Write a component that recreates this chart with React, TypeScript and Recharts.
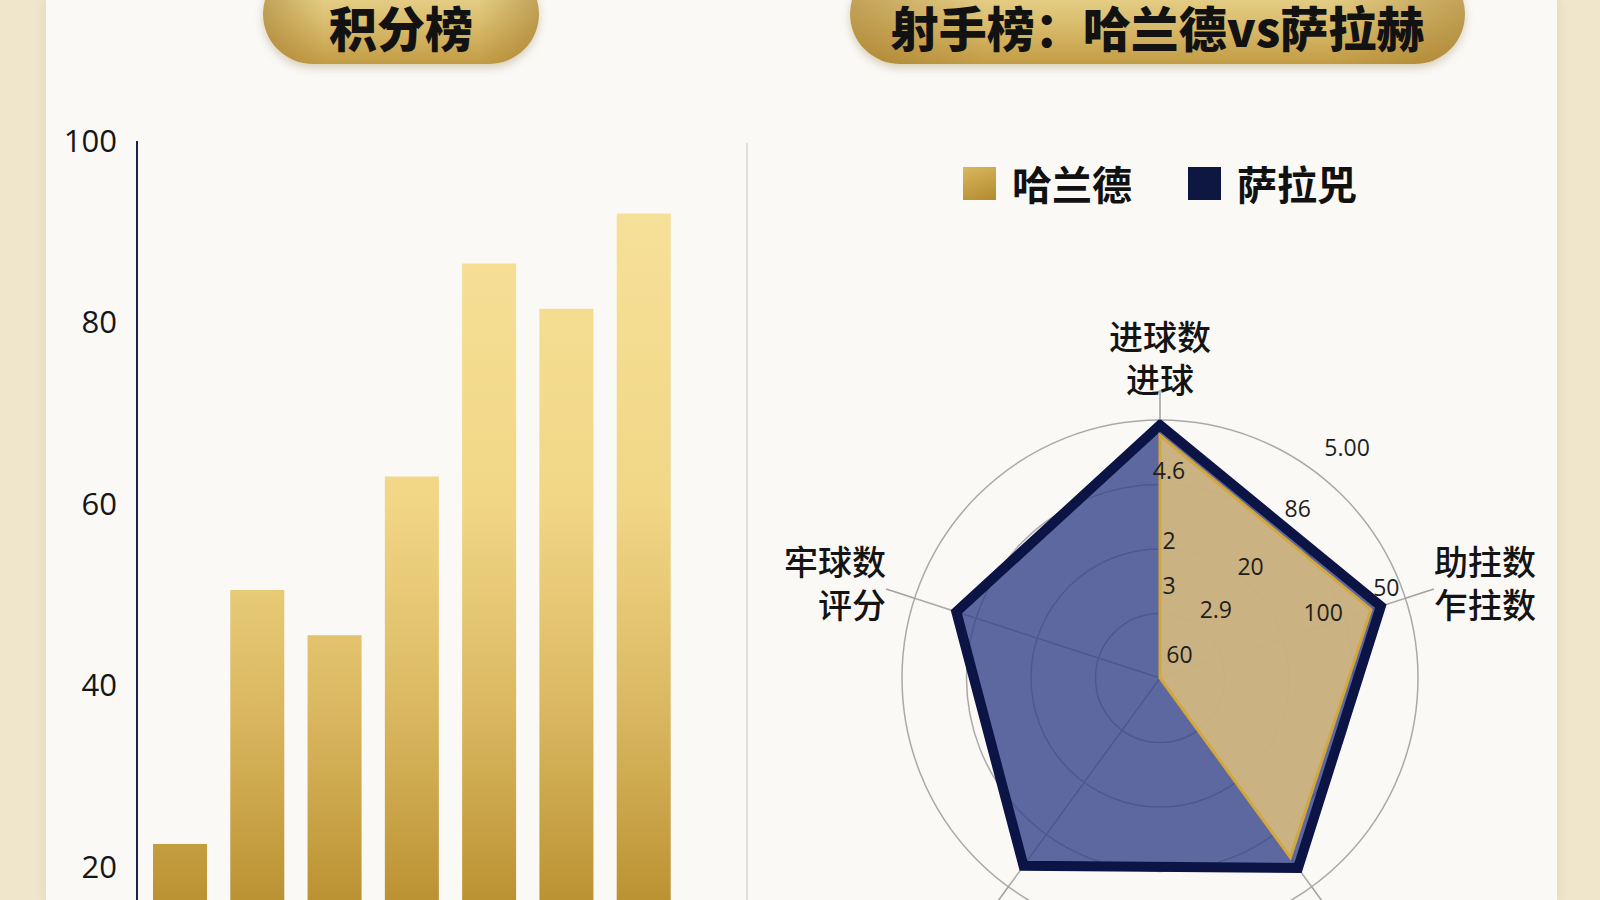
import React from "react";
import {
  BarChart,
  Bar,
  XAxis,
  YAxis,
  RadarChart,
  Radar,
  PolarGrid,
  PolarAngleAxis,
  PolarRadiusAxis,
  Legend,
} from "recharts";

// ---------- data ----------

// team names sit below the visible area of the picture
const TEAMS = ["谢菲联", "伯恩利", "卢顿", "埃弗顿", "利物浦", "阿森纳", "曼城"];
const POINTS = [22.5, 50.5, 45.5, 63, 86.5, 81.5, 92];
const POINT_TICKS = [0, 20, 40, 60, 80, 100];

const METRICS = ["进球数", "助攻数", "射门数", "关键传球", "评分"];
const METRIC_LABELS = [
  ["进球数", "进球"],
  ["助拄数", "乍拄数"],
  ["射门数", "射正"],
  ["关键传球", "创造"],
  ["牢球数", "评分"],
];
const HAALAND = [4.7, 4.3, 4.3, 0, 0];
const SALAH = [4.9, 4.5, 4.55, 4.5, 4.15];

const RING_TICKS = [0, 1.25, 2.5, 3.75, 5];
const V_TICKS = [1.8, 2.67, 4.03];
const V_LABELS = ["3", "2", "4.6"];
const D_TICKS = [0.6, 1.72, 2.79, 4.24, 5.76];
const D_LABELS = ["60", "2.9", "20", "86", "5.00"];
const R_TICKS = [3.41, 4.73];
const R_LABELS = ["100", "50"];

const LEGEND_ORDER = ["哈兰德", "萨拉兕"];
const LEGEND_SWATCH: Record<string, string> = {
  哈兰德: "linear-gradient(160deg, #d9b85e, #b38a2e)",
  萨拉兕: "#0e1642",
};

const barData = TEAMS.map((team, i) => ({ team, points: POINTS[i] }));
const radarData = METRICS.map((metric, i) => ({
  metric,
  haaland: HAALAND[i],
  salah: SALAH[i],
}));

const CN = '"Noto Sans CJK SC", "Noto Sans", sans-serif';
const NUM = '"Open Sans", "Noto Sans", sans-serif';
const RADAR_CY = 678;

// ---------- ticks ----------

function AngleTick(props: any) {
  const { x, y, payload, textAnchor } = props;
  const lines = METRIC_LABELS[payload.index] ?? [payload.value];
  let first = y - 29;
  if (y < RADAR_CY - 150) first = y - 55;
  else if (y > RADAR_CY + 100) first = y + 30;
  return (
    <text
      x={x}
      y={first}
      textAnchor={textAnchor}
      fontSize={34}
      fontWeight={500}
      fill="#141414"
      fontFamily={CN}
      dominantBaseline="central"
    >
      {lines.map((l: string, i: number) => (
        <tspan key={i} x={x} dy={i === 0 ? 0 : 43}>
          {l}
        </tspan>
      ))}
    </text>
  );
}

const radiusTick = (ticks: number[], labels: string[], dx: number) =>
  function RadiusTick(props: any) {
    const { x, y, payload } = props;
    const i = ticks.indexOf(payload.value);
    if (i < 0) return <g />;
    return (
      <text
        x={x + dx}
        y={y}
        textAnchor="middle"
        dominantBaseline="central"
        fontSize={23}
        fill="#1e1e1e"
        fontFamily={NUM}
      >
        {labels[i]}
      </text>
    );
  };

function LegendContent({ payload }: any) {
  const items = [...(payload ?? [])].sort(
    (a: any, b: any) => LEGEND_ORDER.indexOf(a.value) - LEGEND_ORDER.indexOf(b.value)
  );
  return (
    <div style={{ display: "flex", justifyContent: "center", gap: 56 }}>
      {items.map((entry: any) => (
        <div key={entry.value} style={{ display: "flex", alignItems: "center" }}>
          <span
            style={{
              width: 33,
              height: 33,
              background: LEGEND_SWATCH[entry.value],
              display: "inline-block",
            }}
          />
          <span
            style={{
              marginLeft: 16,
              fontSize: 40,
              fontWeight: 700,
              fontFamily: CN,
              color: "#111",
              lineHeight: "46px",
            }}
          >
            {entry.value}
          </span>
        </div>
      ))}
    </div>
  );
}

// ---------- layout bits ----------

const pill = (left: number, width: number): React.CSSProperties => ({
  position: "absolute",
  left,
  width,
  top: -36,
  height: 100,
  borderRadius: 50,
  background:
    "linear-gradient(90deg, rgba(150,110,35,0.45), rgba(255,255,255,0) 22%, rgba(255,255,255,0) 78%, rgba(150,110,35,0.45)), linear-gradient(180deg, #f1e3a6, #dcc072 55%, #c39c45)",
  boxShadow: "0 4px 8px rgba(140,110,50,0.3)",
  display: "flex",
  alignItems: "flex-end",
  justifyContent: "center",
  paddingBottom: 13,
  boxSizing: "border-box",
  fontFamily: CN,
  fontWeight: 900,
  fontSize: 48,
  lineHeight: "50px",
  color: "#121212",
});

export default function App() {
  return (
    <div
      style={{
        position: "fixed",
        left: 0,
        top: 0,
        width: 1600,
        height: 900,
        overflow: "hidden",
        background: "#efe6cc",
      }}
    >
      <div
        style={{
          position: "absolute",
          left: 46,
          top: 0,
          width: 1511,
          height: 900,
          background: "#faf9f6",
          boxShadow: "0 0 12px rgba(120,100,60,0.15)",
        }}
      />

      <div style={pill(263, 276)}>积分榜</div>
      <div style={pill(850, 615)}>射手榜：哈兰德vs萨拉赫</div>

      <div
        style={{
          position: "absolute",
          left: 746,
          top: 143,
          width: 2,
          height: 760,
          background: "#dedede",
        }}
      />

      {/* ---------- standings (bar) ---------- */}
      <div style={{ position: "absolute", left: 0, top: 0 }}>
        <BarChart
          width={720}
          height={1120}
          data={barData}
          margin={{ top: 141, right: 38, left: 0, bottom: 0 }}
        >
          <defs>
            <linearGradient
              id="barGold"
              gradientUnits="userSpaceOnUse"
              x1={0}
              y1={141}
              x2={0}
              y2={1048}
            >
              <stop offset="0" stopColor="#f7e39c" />
              <stop offset="0.4" stopColor="#f1d686" />
              <stop offset="0.62" stopColor="#dbb962" />
              <stop offset="0.84" stopColor="#bb9232" />
              <stop offset="1" stopColor="#a88028" />
            </linearGradient>
          </defs>
          <XAxis
            dataKey="team"
            height={72}
            padding={{ left: 4, right: 0 }}
            tickLine={false}
            axisLine={false}
            tick={{ fontSize: 24, fill: "#161616", fontFamily: CN }}
          />
          <YAxis
            width={137}
            domain={[0, 100]}
            ticks={POINT_TICKS}
            tickLine={false}
            tickMargin={14}
            axisLine={{ stroke: "#1c2050", strokeWidth: 2 }}
            tick={{ fontSize: 31, fill: "#161616", fontFamily: NUM }}
          />
          <Bar
            dataKey="points"
            barSize={54}
            fill="url(#barGold)"
            isAnimationActive={false}
          />
        </BarChart>
      </div>

      {/* ---------- scorers (radar) ---------- */}
      <div style={{ position: "absolute", left: 760, top: 0 }}>
        <RadarChart
          width={800}
          height={1000}
          cx={400}
          cy={RADAR_CY}
          outerRadius={258}
          data={radarData}
          margin={{ top: 0, right: 0, bottom: 0, left: 0 }}
        >
          <PolarGrid gridType="circle" stroke="#a9a9a9" strokeWidth={1.5} />
          <PolarAngleAxis
            dataKey="metric"
            tickSize={30}
            tickLine={{ stroke: "#a0a0a0", strokeWidth: 1.5 }}
            axisLine={false}
            tick={AngleTick}
          />
          <PolarRadiusAxis
            type="number"
            domain={[0, 5]}
            ticks={RING_TICKS as any}
            tickCount={5}
            angle={90}
            axisLine={false}
            tick={false}
          />
          <PolarRadiusAxis
            radiusAxisId="v"
            type="number"
            domain={[0, 5]}
            allowDataOverflow
            ticks={V_TICKS as any}
            angle={90}
            axisLine={false}
            tick={radiusTick(V_TICKS, V_LABELS, 9)}
          />
          <PolarRadiusAxis
            radiusAxisId="d"
            type="number"
            domain={[0, 5]}
            allowDataOverflow
            ticks={D_TICKS as any}
            angle={51}
            axisLine={false}
            tick={radiusTick(D_TICKS, D_LABELS, 0)}
          />
          <PolarRadiusAxis
            radiusAxisId="r"
            type="number"
            domain={[0, 5]}
            allowDataOverflow
            ticks={R_TICKS as any}
            angle={22}
            axisLine={false}
            tick={radiusTick(R_TICKS, R_LABELS, 0)}
          />
          <Radar
            name="萨拉兕"
            dataKey="salah"
            fill="#34448a"
            fillOpacity={0.8}
            stroke="#0c1445"
            strokeWidth={10}
            strokeLinejoin="miter"
            isAnimationActive={false}
          />
          <Radar
            name="哈兰德"
            dataKey="haaland"
            fill="#d6ba7e"
            fillOpacity={0.9}
            stroke="#d3a73c"
            strokeWidth={3}
            isAnimationActive={false}
          />
          <Legend
            verticalAlign="middle"
            align="center"
            content={LegendContent}
            wrapperStyle={{ top: 160, left: 0, width: 800 }}
          />
        </RadarChart>
      </div>
    </div>
  );
}
